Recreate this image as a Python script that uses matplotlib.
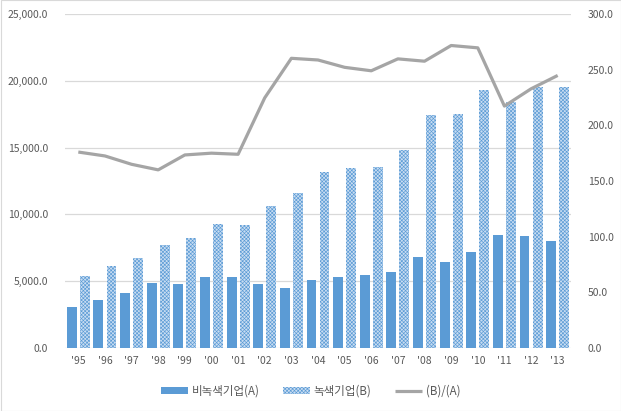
import matplotlib
matplotlib.use('Agg')
import matplotlib.pyplot as plt
import numpy as np
from matplotlib.patches import Rectangle

plt.rcParams['font.family'] = ['Noto Sans CJK KR', 'DejaVu Sans']
plt.rcParams['hatch.linewidth'] = 0.45

years = ["'95", "'96", "'97", "'98", "'99", "'00", "'01", "'02", "'03", "'04",
         "'05", "'06", "'07", "'08", "'09", "'10", "'11", "'12", "'13"]
non_green = [3075, 3600, 4125, 4875, 4800, 5325, 5325, 4800, 4500, 5100,
             5330, 5455, 5680, 6800, 6425, 7175, 8445, 8370, 7995]
green = [5375, 6125, 6725, 7725, 8225, 9300, 9225, 10625, 11625, 13175,
         13450, 13525, 14795, 17410, 17485, 19280, 18450, 19500, 19500]
ratio = [176.0, 172.5, 165.0, 160.0, 173.4, 175.0, 174.0, 224.7, 260.2, 258.7,
         252.1, 249.0, 259.7, 257.6, 271.7, 269.6, 217.3, 232.8, 244.8]

blue = '#5B9BD5'
grey = '#A5A5A5'
txt = '#595959'

fig = plt.figure(figsize=(6.21, 4.11), dpi=100)
ax = fig.add_axes([65/621, 1 - 348/411, 506/621, 334/411])
ax2 = ax.twinx()

x = np.arange(len(years))
w = 0.37
ax.bar(x - 0.245, non_green, w, color=blue, label='비녹색기업(A)', zorder=3)
ax.bar(x + 0.245, green, w, facecolor='#c9ddf2', edgecolor=blue, hatch='xxxxxxxxx',
       linewidth=0, label='녹색기업(B)', zorder=3)
ax2.plot(x, ratio, color=grey, lw=2.3, label='(B)/(A)', zorder=4, solid_capstyle='butt')

ax.set_xlim(-0.5, len(years) - 0.5)
ax.set_ylim(0, 25000)
ax2.set_ylim(0, 300)
ax.set_yticks(np.arange(0, 25001, 5000))
ax.set_yticklabels([f'{v:,.1f}' for v in np.arange(0, 25001, 5000)])
ax2.set_yticks(np.arange(0, 301, 50))
ax2.set_yticklabels([f'{v:.1f}' for v in np.arange(0, 301, 50)])
ax.set_xticks(x)
ax.set_xticklabels(years)

ax.grid(axis='y', color='#D9D9D9', lw=0.9, zorder=0)
for a in (ax, ax2):
    for s in a.spines.values():
        s.set_visible(False)
    a.tick_params(length=0, colors=txt, labelsize=7.5)
ax.tick_params(axis='y', pad=12)
ax2.tick_params(axis='y', pad=12)
ax.tick_params(axis='x', pad=6)

h1, l1 = ax.get_legend_handles_labels()
h2, l2 = ax2.get_legend_handles_labels()
leg = fig.legend(h1 + h2, l1 + l2, loc='center', bbox_to_anchor=(0.5, 1 - 391/411),
                 ncol=3, frameon=False, fontsize=8.3, handlelength=2.4,
                 handleheight=0.5, columnspacing=2.0, handletextpad=0.3)
for t in leg.get_texts():
    t.set_color(txt)

fig.patches.append(Rectangle((0.5/621, 0.5/411), 620/621, 410/411, transform=fig.transFigure,
                             fill=False, edgecolor='#D9D9D9', lw=0.8))

fig.savefig('out.png', dpi=100)
